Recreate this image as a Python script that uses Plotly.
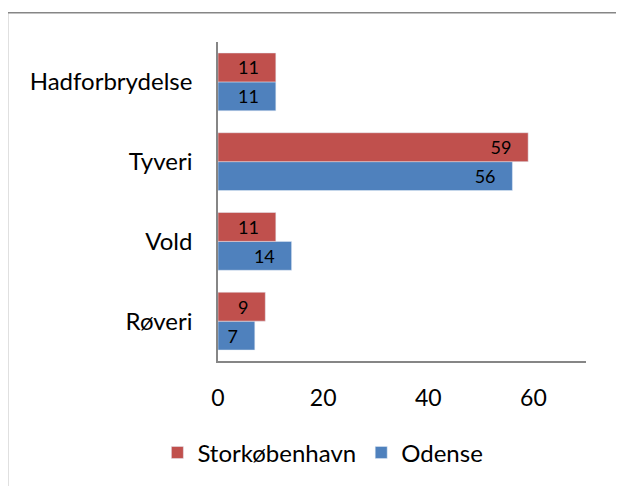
import plotly.graph_objects as go

# categories (bottom to top, as plotly draws them)
kategorier = ["Røveri", "Vold", "Tyveri", "Hadforbrydelse"]
storkbh = [9, 11, 59, 11]
odense = [7, 14, 56, 11]

font = "Lato"
pad = "\u00a0\u00a0\u00a0"

fig = go.Figure()
fig.add_bar(y=kategorier, x=odense, orientation="h", name="Odense",
            marker=dict(color="#4F81BD"),
            text=[str(v) + pad for v in odense], textposition="inside",
            insidetextanchor="end", constraintext="none",
            textfont=dict(color="black", size=18, family=font), legendrank=2)
fig.add_bar(y=kategorier, x=storkbh, orientation="h", name="Storkøbenhavn",
            marker=dict(color="#C0504D"),
            text=[str(v) + pad for v in storkbh], textposition="inside",
            insidetextanchor="end", constraintext="none",
            textfont=dict(color="black", size=18, family=font), legendrank=1)

fig.update_layout(
    width=624, height=486,
    margin=dict(l=210, r=46, t=34, b=133),
    paper_bgcolor="white", plot_bgcolor="white",
    barmode="group", bargap=0.275, bargroupgap=0,
    font=dict(family=font, size=24, color="black"),
    showlegend=True,
    legend=dict(orientation="h", x=0.285, xanchor="center", y=-0.288, yanchor="middle",
                font=dict(size=24), itemwidth=30),
    xaxis=dict(range=[0, 70], dtick=20, showgrid=False, zeroline=False,
               showline=True, linecolor="#868686", linewidth=1.5,
               ticks="", ticklabelstandoff=16, tickfont=dict(size=23),
               fixedrange=True),
    yaxis=dict(showgrid=False, zeroline=False, showline=True,
               linecolor="#868686", linewidth=1.5, ticks="",
               ticklabelstandoff=19, fixedrange=True),
    shapes=[dict(type="rect", xref="paper", yref="paper",
                 x0=-0.572, x1=1.3, y0=-0.6, y1=1.092,
                 line=dict(color="#868686", width=1.5))],
)

fig.write_html("out.html")
